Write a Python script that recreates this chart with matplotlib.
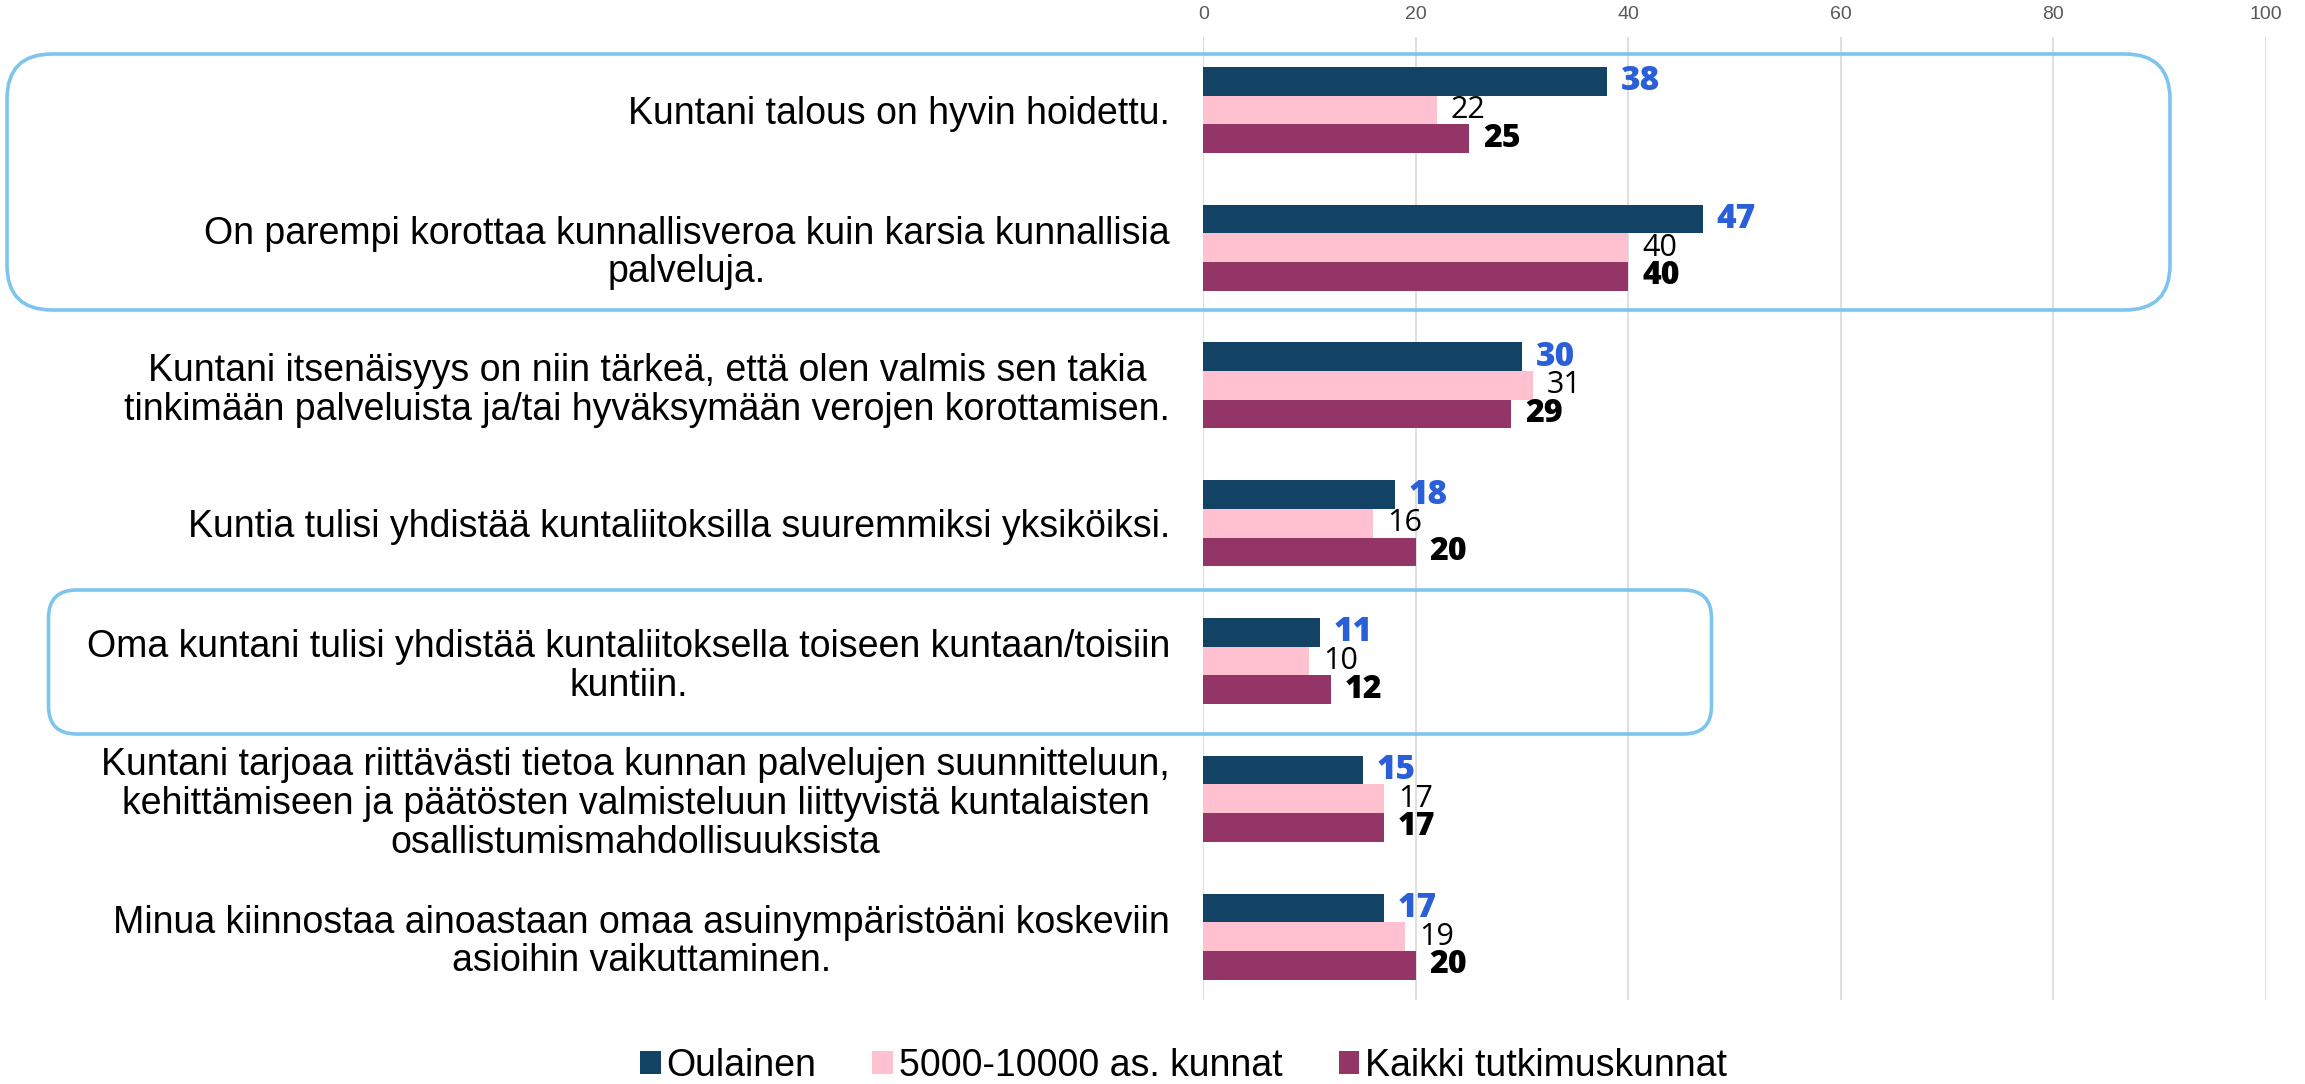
import numpy as np
import matplotlib
matplotlib.use('Agg')
import matplotlib.pyplot as plt
from matplotlib.patches import FancyBboxPatch, Patch

# Data
categories = [
    'Kuntani talous on hyvin hoidettu.',
    'On parempi korottaa kunnallisveroa kuin karsia kunnallisia\npalveluja.',
    'Kuntani itsenäisyys on niin tärkeä, että olen valmis sen takia\ntinkimään palveluista ja/tai hyväksymään verojen korottamisen.',
    'Kuntia tulisi yhdistää kuntaliitoksilla suuremmiksi yksiköiksi.',
    'Oma kuntani tulisi yhdistää kuntaliitoksella toiseen kuntaan/toisiin\nkuntiin.',
    'Kuntani tarjoaa riittävästi tietoa kunnan palvelujen suunnitteluun,\nkehittämiseen ja päätösten valmisteluun liittyvistä kuntalaisten\nosallistumismahdollisuuksista',
    'Minua kiinnostaa ainoastaan omaa asuinympäristöäni koskeviin\nasioihin vaikuttaminen.',
]
series_names = ['Oulainen', '5000-10000 as. kunnat', 'Kaikki tutkimuskunnat']
oulainen = [38, 47, 30, 18, 11, 15, 17]
kunnat_5000 = [22, 40, 31, 16, 10, 17, 19]
kaikki = [25, 40, 29, 20, 12, 17, 20]
x_ticks = [0, 20, 40, 60, 80, 100]

colors = ['#124365', '#FFC0CF', '#933566']
label_colors = ['#2A5FD8', 'black', 'black']
label_weights = ['heavy', 'normal', 'heavy']
label_sizes = [24, 22, 23]
box_color = '#7DC4EE'

fig = plt.figure(figsize=(23.05, 10.84), dpi=100)
ax = fig.add_axes([0.522, 0.0775, 0.4611, 0.8885])

y = np.arange(len(categories))
h = 0.208
all_series = [oulainen, kunnat_5000, kaikki]

for i, (vals, name) in enumerate(zip(all_series, series_names)):
    offs = (i - 1) * h
    bars = ax.barh(y + offs, vals, height=h, color=colors[i], label=name, zorder=3)
    for bar, v in zip(bars, vals):
        ax.annotate(f'{v}', xy=(bar.get_width(), bar.get_y() + bar.get_height() / 2),
                    xytext=(10, 0), textcoords='offset points',
                    ha='left', va='center', fontsize=label_sizes[i],
                    fontweight=label_weights[i], color=label_colors[i],
                    family=['Open Sans', 'DejaVu Sans'], zorder=4)

ax.set_xlim(0, 100)
ax.set_ylim(6.46, -0.53)
ax.set_xticks(x_ticks)
ax.xaxis.tick_top()
ax.tick_params(axis='x', length=0, pad=10, labelsize=14, labelcolor='#595959')
for t in ax.get_xticklabels():
    t.set_family(['Liberation Sans Narrow', 'Liberation Sans'])
ax.set_yticks(y)
ax.set_yticklabels(categories, fontsize=27, family=['Liberation Sans', 'DejaVu Sans'],
                   linespacing=1.1)
for t in ax.get_yticklabels():
    t.set_multialignment('center')
ax.tick_params(axis='y', length=0, pad=24)
ax.grid(True, axis='x', color='#D9D9D9', linewidth=1.2, zorder=0)
for s in ax.spines.values():
    s.set_visible(False)

# Highlight boxes (inches from bottom-left)
box1 = FancyBboxPatch((0.07, 7.74), 21.63, 2.56, boxstyle='round,pad=0,rounding_size=0.45',
                      transform=fig.dpi_scale_trans, fill=False, edgecolor=box_color,
                      linewidth=2.6, clip_on=False, zorder=5)
box2 = FancyBboxPatch((0.485, 3.50), 16.63, 1.44, boxstyle='round,pad=0,rounding_size=0.28',
                      transform=fig.dpi_scale_trans, fill=False, edgecolor=box_color,
                      linewidth=2.6, clip_on=False, zorder=5)
fig.patches.extend([box1, box2])

handles = [Patch(facecolor=c, label=n) for c, n in zip(colors, series_names)]
fig.legend(handles=handles, loc='center', bbox_to_anchor=(0.5134, 0.0166), ncol=3,
           frameon=False, handlelength=0.55, handleheight=0.55, handletextpad=0.15,
           columnspacing=1.5, prop={'family': 'Liberation Sans', 'size': 27})

fig.savefig('out.png', dpi=100)
